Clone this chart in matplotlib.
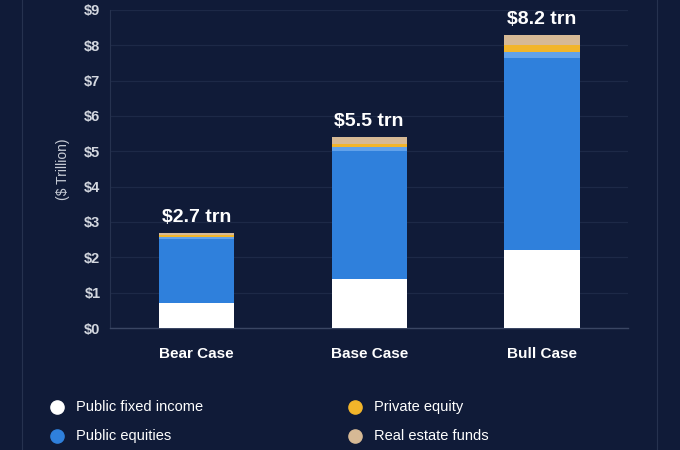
import matplotlib
matplotlib.use("Agg")
import matplotlib.pyplot as plt
from matplotlib.lines import Line2D
import numpy as np

plt.rcParams['font.family'] = ['Liberation Sans', 'DejaVu Sans']

# data
scenarios = ["Bear Case", "Base Case", "Bull Case"]
totals = ["$2.7 trn", "$5.5 trn", "$8.2 trn"]
fixed_income = [0.70, 1.40, 2.20]
public_equities = [1.82, 3.62, 5.45]
public_alts = [0.06, 0.10, 0.15]
private_equity = [0.05, 0.10, 0.20]
real_estate = [0.07, 0.18, 0.30]

series = [
    ("Public fixed income", fixed_income, "#ffffff"),
    ("Public equities", public_equities, "#2f80dc"),
    ("Public alternatives", public_alts, "#62a2ea"),
    ("Private equity", private_equity, "#f2b52a"),
    ("Real estate funds", real_estate, "#d6b995"),
]
legend_items = ["Public fixed income", "Public equities", "Private equity", "Real estate funds"]

bg = "#101b38"
fig = plt.figure(figsize=(6.8, 4.5), dpi=100, facecolor=bg)
ax = fig.add_axes([0.162, 0.271, 0.762, 0.707], facecolor=bg)

x = np.arange(len(scenarios))
bottom = np.zeros(len(scenarios))
colors = {}
for name, vals, col in series:
    ax.bar(x, vals, width=0.435, bottom=bottom, color=col, linewidth=0,
           zorder=3)
    bottom += np.array(vals)
    colors[name] = col

for xi, top, lab in zip(x, bottom, totals):
    ax.annotate(lab, (xi, top), xytext=(0, 5), textcoords="offset points",
                ha="center", va="bottom", color="white", fontsize=14,
                fontweight="bold")

ax.set_xlim(-0.5, 2.5)
ax.set_ylim(0, 9)
ax.set_yticks(range(10))
ax.set_yticklabels([f"${i}" for i in range(10)])
ax.set_xticks(x)
ax.set_xticklabels(scenarios)
ax.tick_params(axis="y", length=0, pad=7, colors="#d3d7df", labelsize=10.5)
ax.tick_params(axis="x", length=0, pad=14, colors="white", labelsize=11)
for t in ax.get_yticklabels() + ax.get_xticklabels():
    t.set_fontweight("bold")
ax.grid(axis="y", color="#1d2947", linewidth=0.9, zorder=0)
for s in ["top", "right"]:
    ax.spines[s].set_visible(False)
ax.spines["left"].set_color("#26324f")
ax.spines["bottom"].set_color("#3a4663")
ax.spines["bottom"].set_linewidth(1.0)
ax.set_ylabel("($ Trillion)", color="#c7ccd6", fontsize=10, labelpad=10)

# card borders
for xf in [22 / 680, 657 / 680]:
    fig.add_artist(Line2D([xf, xf], [0, 1], transform=fig.transFigure,
                          color="#26324f", linewidth=0.8))

# legend
positions = [(57, 407), (57, 436), (355, 407), (355, 436)]
for name, (px, py) in zip(legend_items, positions):
    fx, fy = px / 680, 1 - py / 450
    fig.add_artist(Line2D([fx], [fy], transform=fig.transFigure, marker="o",
                          markersize=9.5, color=colors[name], linestyle="none"))
    fig.text(fx + 19 / 680, fy, name, color="white", fontsize=10.5,
             va="center", ha="left")

fig.savefig("out.png", dpi=100, facecolor=bg)
